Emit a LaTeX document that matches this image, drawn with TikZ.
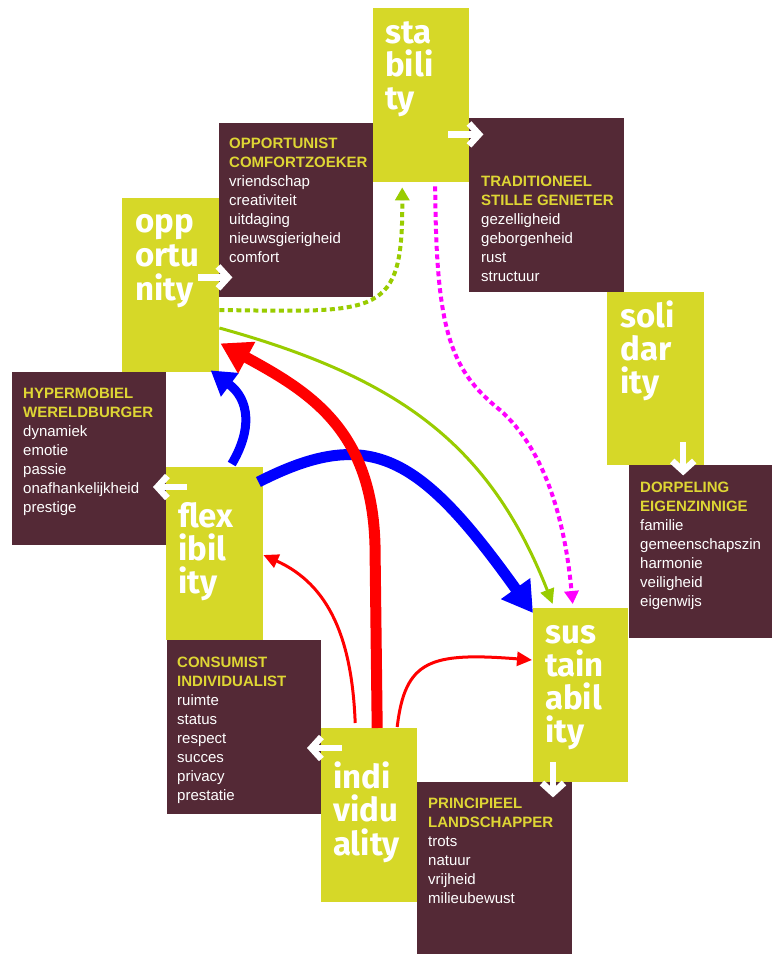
\documentclass[tikz,border=0pt]{standalone}
\usepackage{fontspec}
\setmainfont{Liberation Sans}
\newfontfamily\valuefont{Fira Sans}
\usetikzlibrary{arrows.meta}
\usetikzlibrary{calc}

\definecolor{valuelime}{RGB}{214,216,40}
\definecolor{groupplum}{RGB}{84,41,54}
\definecolor{headyellow}{RGB}{222,214,52}
\definecolor{linkgreen}{RGB}{153,204,0}
\definecolor{linkpink}{RGB}{255,0,255}
\definecolor{linkblue}{RGB}{0,0,255}
\definecolor{linkred}{RGB}{255,0,0}

\begin{document}
\begin{tikzpicture}
     [x=1pt,y=-1pt,
      % Styles
        value box/.style={fill=valuelime,anchor=north west,inner sep=0pt},
        group box/.style={fill=groupplum,anchor=north west,inner sep=0pt},
        value text/.style={anchor=base west,inner sep=0pt,text=white,
          font=\valuefont\bfseries\fontsize{33}{33}\selectfont},
        group head/.style={anchor=base west,inner sep=0pt,text=headyellow,
          font=\bfseries\fontsize{15}{19}\selectfont},
        group item/.style={anchor=base west,inner sep=0pt,text=white,
          font=\fontsize{15}{19}\selectfont},
        white arrow/.style={white,line width=6.5pt,-{Straight Barb[length=10pt,width=22pt]}},
        thick link/.style={line width=11pt,-{Triangle[length=30pt,width=34pt]}},
        thin link/.style={line width=3pt,-{Triangle[length=15pt,width=14pt]}},
        dotted link/.style={line width=4pt,dash pattern=on 5pt off 3.5pt,
          -{Triangle[length=13pt,width=14pt]}}]
    \path[fill=white,use as bounding box] (0,0) rectangle (772,954);

    % value boxes
    \node[value box,minimum width=96pt,minimum height=174pt] (stability) at (373,8) {};
    \node[value box,minimum width=97pt,minimum height=174pt] (opportunity) at (122,198) {};
    \node[value box,minimum width=97pt,minimum height=173pt] (solidarity) at (607,292) {};
    \node[value box,minimum width=97pt,minimum height=173pt] (flexibility) at (166,467) {};
    \node[value box,minimum width=96pt,minimum height=174pt] (individuality) at (321,728) {};
    \node[value box,minimum width=95pt,minimum height=174pt] (sustainability) at (533,608) {};

    % group boxes
    \node[group box,minimum width=155pt,minimum height=174pt] (traditioneel) at (469,118) {};
    \node[group box,minimum width=154pt,minimum height=174pt] (opportunist) at (219,123) {};
    \node[group box,minimum width=154pt,minimum height=173pt] (hypermobiel) at (12,372) {};
    \node[group box,minimum width=143pt,minimum height=173pt] (dorpeling) at (629,465) {};
    \node[group box,minimum width=154pt,minimum height=174pt] (consumist) at (167,640) {};
    \node[group box,minimum width=155pt,minimum height=172pt] (principieel) at (417,782) {};

    % syllables
    \foreach \w [count=\i from 0] in {sta,bili,ty}
      \node[value text] (stability-\i) at (385,{43+33*\i}) {\w};
    \foreach \w [count=\i from 0] in {opp,ortu,nity}
      \node[value text] (opportunity-\i) at (135,{232+34*\i}) {\w};
    \foreach \w [count=\i from 0] in {soli,dar,ity}
      \node[value text] (solidarity-\i) at (620,{327+33*\i}) {\w};
    \foreach \w [count=\i from 0] in {flex,ibil,ity}
      \node[value text] (flexibility-\i) at (178,{527+33*\i}) {\w};
    \foreach \w [count=\i from 0] in {indi,vidu,ality}
      \node[value text] (individuality-\i) at (333,{788+33.5*\i}) {\w};
    \foreach \w [count=\i from 0] in {sus,tain,abil,ity}
      \node[value text] (sustainability-\i) at (545,{643+33.3*\i}) {\w};

    % group lists
    \foreach \w [count=\i from 0] in {OPPORTUNIST,COMFORTZOEKER}
      \node[group head] (opportunist-h\i) at (229,{148+19*\i}) {\w};
    \foreach \w [count=\i from 2] in {vriendschap,creativiteit,uitdaging,nieuwsgierigheid,comfort}
      \node[group item] (opportunist-\i) at (229,{148+19*\i}) {\w};
    \foreach \w [count=\i from 0] in {TRADITIONEEL,STILLE GENIETER}
      \node[group head] (traditioneel-h\i) at (481,{186+19*\i}) {\w};
    \foreach \w [count=\i from 2] in {gezelligheid,geborgenheid,rust,structuur}
      \node[group item] (traditioneel-\i) at (481,{186+19*\i}) {\w};
    \foreach \w [count=\i from 0] in {HYPERMOBIEL,WERELDBURGER}
      \node[group head] (hypermobiel-h\i) at (23,{398+19*\i}) {\w};
    \foreach \w [count=\i from 2] in {dynamiek,emotie,passie,onafhankelijkheid,prestige}
      \node[group item] (hypermobiel-\i) at (23,{398+19*\i}) {\w};
    \foreach \w [count=\i from 0] in {DORPELING,EIGENZINNIGE}
      \node[group head] (dorpeling-h\i) at (640,{492+19*\i}) {\w};
    \foreach \w [count=\i from 2] in {familie,gemeenschapszin,harmonie,veiligheid,eigenwijs}
      \node[group item] (dorpeling-\i) at (640,{492+19*\i}) {\w};
    \foreach \w [count=\i from 0] in {CONSUMIST,INDIVIDUALIST}
      \node[group head] (consumist-h\i) at (177,{667+19*\i}) {\w};
    \foreach \w [count=\i from 2] in {ruimte,status,respect,succes,privacy,prestatie}
      \node[group item] (consumist-\i) at (177,{667+19*\i}) {\w};
    \foreach \w [count=\i from 0] in {PRINCIPIEEL,LANDSCHAPPER}
      \node[group head] (principieel-h\i) at (428,{808+19*\i}) {\w};
    \foreach \w [count=\i from 2] in {trots,natuur,vrijheid,milieubewust}
      \node[group item] (principieel-\i) at (428,{808+19*\i}) {\w};

    % white arrows value -> group
    \draw[white arrow] ($(stability.south east)+(-21,-48)$) -- ++(35,0);
    \draw[white arrow] ($(opportunity.south east)+(-21,-95)$) -- ++(34,0);
    \draw[white arrow] ($(solidarity.south)+(27.5,-23)$) -- ++(0,33);
    \draw[white arrow] ($(flexibility.north west)+(21,20)$) -- ++(-34,0);
    \draw[white arrow] ($(individuality.north west)+(21,20)$) -- ++(-35,0);
    \draw[white arrow] ($(sustainability.south west)+(20,-20)$) -- ++(0,35);

    % links
    \draw[linkblue,thick link] ($(flexibility.north east)+(-5,15)$)
      .. controls (370,425) and (420,455) .. ($(sustainability.north west)+(0,5)$);
    \draw[linkblue,thick link,line width=9pt,-{Triangle[length=24pt,width=28pt]}]
      ($(flexibility.north)+(17,-3)$) .. controls (252,430) and (250,400) .. ($(opportunity.south)+(40,-2)$);
    \draw[linkgreen,thin link] ($(opportunity.north east)+(0,130)$)
      .. controls (400,378) and (490,445) .. ($(sustainability.north)+(-28,-4)$);
    \draw[linkgreen,dotted link] ($(opportunity.north east)+(0,112)$)
      .. controls (380,312) and (403,318) .. ($(stability.south)+(-19,5)$);
    \draw[linkpink,dotted link] ($(stability.south)+(14,4)$)
      .. controls (436,330) and (450,370) .. (500,410)
      .. controls (545,450) and (565,520) .. ($(sustainability.north)+(-8,-4)$);
    \draw[linkred,thick link] ($(individuality.north)+(8,0)$) -- (375,545)
      .. controls (372,430) and (310,392) .. ($(opportunity.south east)+(1,-29)$);
    \draw[linkred,thin link] ($(individuality.north)+(-14,-5)$)
      .. controls (352,640) and (330,585) .. ($(flexibility.north east)+(0,88)$);
    \draw[linkred,thin link] ($(individuality.north)+(28,-1)$)
      .. controls (405,660) and (430,652) .. ($(sustainability.north west)+(-1,52)$);
  \end{tikzpicture}
\end{document}
